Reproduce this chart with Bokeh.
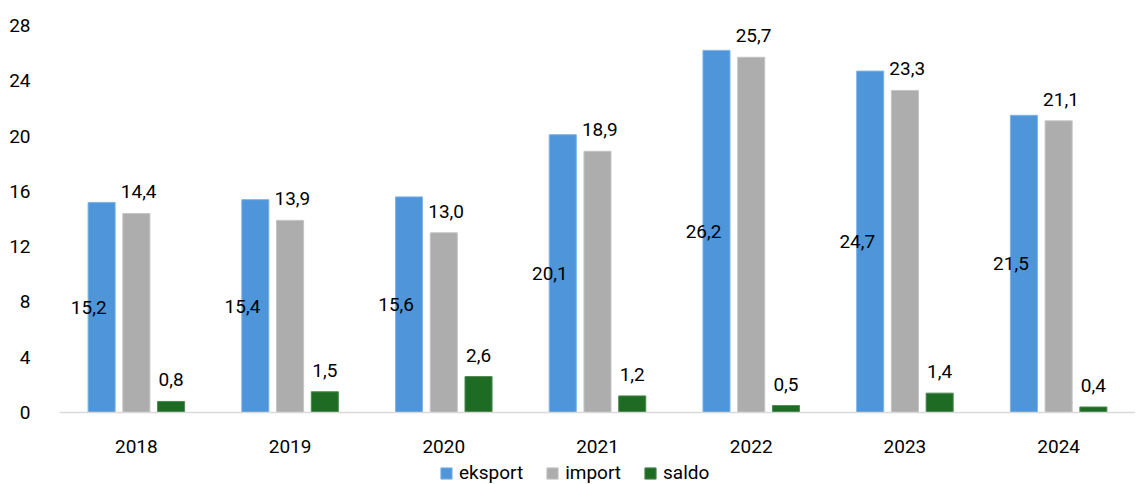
from bokeh.plotting import figure
from bokeh.layouts import column
from bokeh.models import ColumnDataSource, FactorRange, Legend, LegendItem, Range1d, FixedTicker
from bokeh.transform import dodge
from bokeh.core.properties import value
from bokeh.embed import file_html
from bokeh.resources import INLINE

years = ["2018", "2019", "2020", "2021", "2022", "2023", "2024"]
eksport = [15.2, 15.4, 15.6, 20.1, 26.2, 24.7, 21.5]
importv = [14.4, 13.9, 13.0, 18.9, 25.7, 23.3, 21.1]
saldo = [0.8, 1.5, 2.6, 1.2, 0.5, 1.4, 0.4]
series_names = ["eksport", "import", "saldo"]
y_ticks = [0, 4, 8, 12, 16, 20, 24, 28]

def fmt(v):
    return f"{v:.1f}".replace(".", ",")

src = ColumnDataSource(dict(
    year=years,
    eksport=eksport,
    eksport_mid=[v / 2 for v in eksport],
    importv=importv,
    saldo=saldo,
    eksport_lbl=[fmt(v) for v in eksport],
    import_lbl=[fmt(v) for v in importv],
    saldo_lbl=[fmt(v) for v in saldo],
))

FONT = "Roboto"
FS = "19px"

p = figure(x_range=FactorRange(*years, range_padding=0), y_range=Range1d(0, 28),
           width=1135, height=456, output_backend="svg", toolbar_location=None,
           min_border_left=59, min_border_right=0, min_border_top=25, min_border_bottom=44)
p.x_range.range_padding = 0

BLUE = "#4E95D9"
GRAY = "#ADADAD"
GREEN = "#1E6B24"
W = 0.176

r1 = p.vbar(x=dodge("year", -0.226, range=p.x_range), top="eksport", width=W, source=src,
            fill_color=BLUE, line_color="#7FB3E6", line_width=1)
r2 = p.vbar(x=dodge("year", 0.0, range=p.x_range), top="importv", width=W, source=src,
            fill_color=GRAY, line_color="#C4C4C4", line_width=1)
r3 = p.vbar(x=dodge("year", 0.226, range=p.x_range), top="saldo", width=W, source=src,
            fill_color=GREEN, line_color="#4C8A50", line_width=1)

p.text(x=dodge("year", -0.31, range=p.x_range), y="eksport_mid", text="eksport_lbl", source=src,
       text_align="center", text_baseline="middle", text_font=value(FONT), text_font_size=FS,
       text_color="#000000")
p.text(x=dodge("year", 0.015, range=p.x_range), y="importv", text="import_lbl", source=src,
       text_align="center", text_baseline="bottom", y_offset=-15, text_font=value(FONT),
       text_font_size=FS, text_color="#000000")
p.text(x=dodge("year", 0.226, range=p.x_range), y="saldo", text="saldo_lbl", source=src,
       text_align="center", text_baseline="bottom", y_offset=-15, text_font=value(FONT),
       text_font_size=FS, text_color="#000000")

p.xgrid.visible = False
p.ygrid.visible = False
p.outline_line_color = None

p.yaxis.ticker = FixedTicker(ticks=y_ticks)
p.yaxis.axis_line_color = None
p.yaxis.major_tick_line_color = None
p.yaxis.minor_tick_line_color = None
p.yaxis.major_label_standoff = 23
p.yaxis.major_label_text_font = FONT
p.yaxis.major_label_text_font_size = FS
p.yaxis.major_label_text_color = "#000000"

p.xaxis.axis_line_color = "#D9D9D9"
p.xaxis.axis_line_width = 1.5
p.xaxis.major_tick_line_color = None
p.xaxis.minor_tick_line_color = None
p.xaxis.major_label_standoff = 21
p.xaxis.major_label_text_font = FONT
p.xaxis.major_label_text_font_size = FS
p.xaxis.major_label_text_color = "#000000"

# legend strip below the chart
lg = figure(width=1135, height=28, x_range=Range1d(0, 1), y_range=Range1d(0, 1),
            output_backend="svg", toolbar_location=None,
            min_border_left=0, min_border_right=0, min_border_top=0, min_border_bottom=0)
lg.axis.visible = False
lg.grid.visible = False
lg.outline_line_color = None
colors = [BLUE, GRAY, GREEN]
edges = ["#7FB3E6", "#C4C4C4", "#4C8A50"]
items = []
for name, c, e in zip(series_names, colors, edges):
    # proxy glyphs placed outside the visible range, used only for legend swatches
    rr = lg.vbar(x=[10], top=[1], width=0.1, fill_color=c, line_color=e, line_width=1)
    items.append(LegendItem(label=name, renderers=[rr]))
legend = Legend(items=items, orientation="horizontal", location=(380, 0),
                glyph_width=14, glyph_height=14, label_standoff=6, spacing=22,
                padding=0, margin=0, border_line_color=None, background_fill_alpha=0,
                label_text_font=FONT, label_text_font_size=FS, label_text_color="#000000",
                label_height=20)
lg.add_layout(legend)

layout = column(p, lg, spacing=0)
open("out.html", "w").write(file_html(layout, INLINE))
